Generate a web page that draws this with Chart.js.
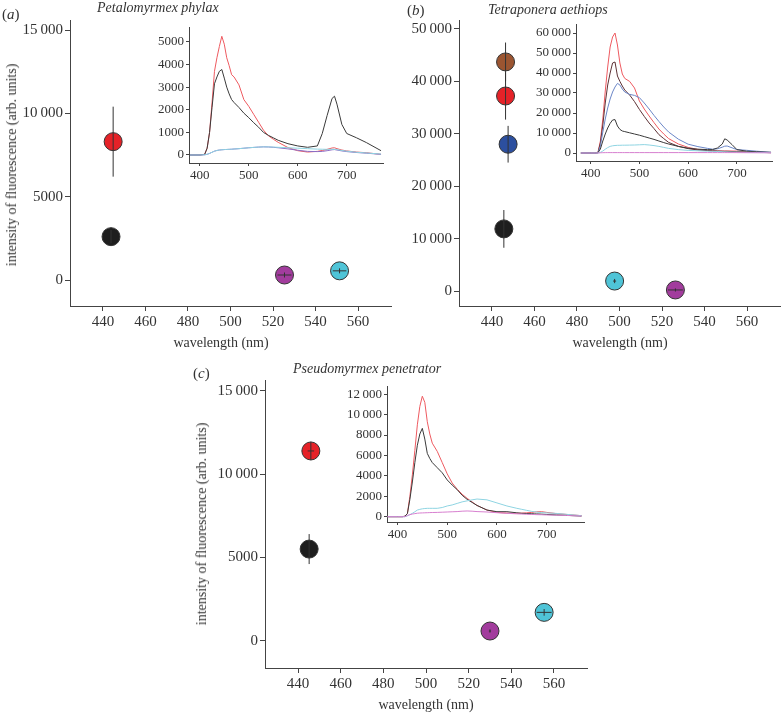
<!DOCTYPE html>
<html>
<head>
<meta charset="utf-8">
<script src="https://cdn.jsdelivr.net/npm/chart.js@4.4.0/dist/chart.umd.min.js"></script>
<style>
  body { margin: 0; background: #fff; }
  #page { position: relative; width: 781px; height: 713px; overflow: hidden; font-family: 'Liberation Serif', serif; color: #333; }
  canvas { position: absolute; }
  .txt { position: absolute; white-space: nowrap; font-size: 14px; line-height: 16px; }
  .ttl { font-style: italic; }
  .ylab { transform: translate(-50%, -50%) rotate(-90deg); }
  .xlab { transform: translate(-50%, -50%); }
</style>
</head>
<body>
<div id="page">
  <canvas id="mainA"></canvas>
  <canvas id="mainB"></canvas>
  <canvas id="mainC"></canvas>
  <canvas id="insetA"></canvas>
  <canvas id="insetB"></canvas>
  <canvas id="insetC"></canvas>

  <div class="txt" style="left:2px;top:6px;font-size:15px">(<i>a</i>)</div>
  <div class="txt ttl" style="left:97px;top:0px">Petalomyrmex phylax</div>
  <div class="txt" style="left:407px;top:2px;font-size:15px">(<i>b</i>)</div>
  <div class="txt ttl" style="left:488px;top:2px">Tetraponera aethiops</div>
  <div class="txt" style="left:193px;top:365px;font-size:15px">(<i>c</i>)</div>
  <div class="txt ttl" style="left:293px;top:361px">Pseudomyrmex penetrator</div>

  <div class="txt ylab" style="left:12px;top:165px">intensity of fluorescence (arb. units)</div>
  <div class="txt ylab" style="left:202px;top:524px">intensity of fluorescence (arb. units)</div>
  <div class="txt xlab" style="left:221px;top:343px">wavelength (nm)</div>
  <div class="txt xlab" style="left:620px;top:343px">wavelength (nm)</div>
  <div class="txt xlab" style="left:426px;top:705px">wavelength (nm)</div>
</div>
<script>
// ---- main panels: peak wavelength vs intensity ----
const aNames = ['black', 'red', 'purple', 'cyan'];
const aWavelength = [443.8, 444.8, 525.4, 551.3];
const aIntensity = [2600, 8300, 300, 550];
const aIntensityErr = [400, 2100, 150, 150];
const aWavelengthErr = [0, 0, 3.3, 3.2];

const bNames = ['brown', 'red', 'blue', 'black', 'cyan', 'purple'];
const bWavelength = [446.4, 446.4, 447.6, 445.6, 497.7, 526.3];
const bIntensity = [43700, 37200, 28000, 11850, 1900, 200];
const bIntensityErr = [3700, 4500, 3500, 3600, 400, 300];
const bWavelengthErr = [0, 0, 0, 0, 0.7, 3.5];

const cNames = ['red', 'black', 'purple', 'cyan'];
const cWavelength = [446.0, 445.2, 530.0, 555.4];
const cIntensity = [11390, 5500, 580, 1700];
const cIntensityErr = [550, 900, 100, 200];
const cWavelengthErr = [1.5, 0, 0.5, 3.5];

const mainXTicks = [440, 460, 480, 500, 520, 540, 560];
const aYTicks = [0, 5000, 10000, 15000];
const bYTicks = [0, 10000, 20000, 30000, 40000, 50000];
const cYTicks = [0, 5000, 10000, 15000];

// ---- insets: emission spectra ----
const insetWavelength = [380, 400, 410, 415, 420, 425, 430, 435, 440, 445, 450, 455, 460, 465, 470, 480, 490, 500, 510, 520, 530, 540, 550, 560, 580, 600, 620, 640, 650, 660, 670, 675, 680, 690, 700, 720, 740, 770];

const aRedSpec = [0, 0, 30, 300, 1000, 2300, 3700, 4300, 4800, 5250, 4900, 4300, 3950, 3550, 3450, 3100, 2450, 2150, 1800, 1450, 1100, 850, 700, 560, 330, 190, 130, 160, 200, 250, 310, 320, 280, 220, 180, 130, 100, 30];
const aBlackSpec = [0, 0, 30, 300, 1000, 2100, 3150, 3450, 3700, 3780, 3400, 3000, 2700, 2450, 2320, 2100, 1850, 1650, 1430, 1230, 1000, 870, 760, 650, 500, 400, 340, 400, 950, 1750, 2500, 2600, 2250, 1350, 950, 760, 550, 190];
const aPurpleSpec = [0, 0, 10, 30, 70, 120, 170, 200, 220, 230, 240, 245, 250, 255, 265, 280, 300, 320, 335, 350, 360, 355, 340, 320, 270, 210, 160, 150, 160, 190, 230, 240, 220, 180, 150, 110, 80, 30];
const aCyanSpec = [0, 0, 10, 30, 70, 120, 170, 200, 220, 230, 240, 245, 250, 255, 265, 280, 300, 320, 335, 350, 360, 358, 350, 340, 320, 300, 280, 260, 255, 250, 250, 250, 240, 200, 170, 120, 90, 40];

const bRedSpec = [0, 0, 0, 200, 6000, 17000, 31000, 43000, 53000, 58000, 60000, 54000, 45000, 39500, 37300, 35800, 32500, 26000, 22000, 18500, 15200, 12000, 9500, 7200, 4500, 2800, 1800, 1300, 1100, 1000, 1000, 1000, 1000, 1000, 950, 600, 400, 170];
const bBrownSpec = [0, 0, 0, 200, 5000, 14000, 25000, 34000, 40000, 45000, 45500, 38500, 35800, 33500, 31500, 29000, 25700, 21800, 18300, 15000, 12200, 9200, 7200, 5300, 3300, 2200, 1500, 1200, 1100, 1000, 900, 850, 850, 750, 650, 500, 350, 170];
const bBlueSpec = [0, 0, 0, 100, 3500, 10500, 17000, 22500, 27000, 30500, 33000, 34800, 34000, 32000, 30500, 29300, 28800, 27700, 25000, 22000, 18800, 15800, 13000, 10500, 6900, 4400, 3200, 2300, 1900, 2100, 2900, 3400, 3500, 2600, 1700, 1350, 900, 340];
const bBlackSpec = [0, 0, 0, 100, 2000, 6000, 9500, 12500, 14800, 16500, 16700, 13500, 11800, 11000, 10700, 10100, 9500, 8900, 8200, 7500, 6800, 6000, 5200, 4500, 3300, 2400, 1900, 1700, 1700, 2500, 4500, 7100, 6500, 4200, 1700, 900, 600, 340];
const bCyanSpec = [0, 0, 0, 0, 300, 1000, 1900, 2700, 3300, 3600, 3750, 3850, 3850, 3900, 3900, 3950, 4000, 4100, 4200, 4000, 3700, 3300, 2800, 2300, 1700, 1300, 1100, 900, 850, 750, 650, 600, 550, 500, 450, 350, 250, 170];
const bPurpleSpec = [0, 0, 0, 0, 100, 150, 180, 200, 200, 200, 200, 200, 200, 200, 200, 200, 200, 200, 200, 200, 200, 200, 200, 200, 200, 200, 200, 200, 200, 200, 200, 200, 200, 200, 180, 150, 120, 100];

const cRedSpec = [0, 0, 0, 50, 300, 2000, 4100, 6500, 9000, 10800, 11800, 11200, 9300, 8100, 7200, 6400, 5300, 4200, 3300, 2700, 2200, 1800, 1450, 1100, 650, 420, 350, 330, 350, 380, 420, 450, 480, 490, 420, 300, 220, 100];
const cBlackSpec = [0, 0, 0, 50, 300, 1700, 3400, 5300, 7000, 8100, 8650, 7600, 6200, 5700, 5300, 4800, 4300, 3600, 3100, 2650, 2100, 1700, 1400, 1100, 650, 490, 490, 380, 330, 310, 290, 280, 270, 250, 220, 170, 130, 60];
const cCyanSpec = [0, 0, 0, 0, 80, 200, 330, 480, 650, 720, 770, 800, 820, 820, 820, 820, 900, 1050, 1150, 1300, 1450, 1550, 1650, 1730, 1650, 1350, 1050, 820, 720, 620, 520, 490, 450, 400, 370, 320, 230, 100];
const cPurpleSpec = [0, 0, 0, 0, 120, 200, 260, 300, 340, 360, 370, 380, 390, 400, 410, 420, 440, 460, 480, 500, 540, 560, 540, 500, 460, 390, 330, 280, 260, 240, 220, 210, 200, 190, 170, 150, 120, 60];

const insetXTicks = [400, 500, 600, 700];
const aInsetYTicks = [0, 1000, 2000, 3000, 4000, 5000];
const bInsetYTicks = [0, 10000, 20000, 30000, 40000, 50000, 60000];
const cInsetYTicks = [0, 2000, 4000, 6000, 8000, 10000, 12000];

// colours
const dotColour = {
  black: '#1e1e1e', red: '#e52228', purple: '#a23c9d', cyan: '#4fc4d7',
  blue: '#2c4f9f', brown: '#9b5531'
};
const lineColour = {
  black: '#3a3a3a', red: '#ee5a60', purple: '#8a6cc4', cyan: '#8ed4e2',
  blue: '#6b86c7', brown: '#5e3236', magenta: '#d77fcf'
};

const SERIF = "'Liberation Serif', 'Times New Roman', serif";
const AXIS = '#444';

function fmt(v) {
  if (Math.abs(v) >= 10000) {
    const s = String(v);
    return s.slice(0, s.length - 3) + '\u2009' + s.slice(-3);
  }
  return String(v);
}

// place canvas so the chart area lands on the given box
function place(id, box, yW, xH, pad) {
  const c = document.getElementById(id);
  c.width = box.r - box.l + yW + pad;
  c.height = box.b - box.t + pad + xH;
  c.style.left = (box.l - yW) + 'px';
  c.style.top = (box.t - pad) + 'px';
  return c;
}

function axis(pos, range, ticks, size, fixed, tickLen) {
  return {
    type: 'linear',
    position: pos,
    min: range[0],
    max: range[1],
    afterBuildTicks: s => { s.ticks = ticks.map(v => ({ value: v })); },
    afterFit: s => {
      if (pos === 'left') { s.width = fixed; s.paddingTop = 0; s.paddingBottom = 0; }
      else { s.height = fixed; s.paddingLeft = 0; s.paddingRight = 0; }
    },
    grid: { drawOnChartArea: false, drawTicks: true, tickLength: tickLen, color: AXIS, lineWidth: 1 },
    border: { display: true, color: AXIS, width: 1 },
    ticks: {
      font: { family: SERIF, size: size },
      color: '#333',
      padding: 2,
      maxRotation: 0,
      autoSkip: false,
      callback: v => fmt(v)
    }
  };
}

const errorBars = {
  id: 'errorBars',
  afterDatasetsDraw(chart) {
    const ds = chart.data.datasets[0];
    if (!ds.errY) return;
    const ctx = chart.ctx, xs = chart.scales.x, ys = chart.scales.y;
    ctx.save();
    ctx.strokeStyle = '#333';
    ctx.lineWidth = 1;
    ds.data.forEach((p, i) => {
      const px = xs.getPixelForValue(p.x), py = ys.getPixelForValue(p.y);
      ctx.beginPath();
      ctx.moveTo(px, ys.getPixelForValue(p.y - ds.errY[i]));
      ctx.lineTo(px, ys.getPixelForValue(p.y + ds.errY[i]));
      if (ds.errX[i] > 0) {
        ctx.moveTo(xs.getPixelForValue(p.x - ds.errX[i]), py);
        ctx.lineTo(xs.getPixelForValue(p.x + ds.errX[i]), py);
      }
      ctx.stroke();
    });
    ctx.restore();
  }
};

function mainChart(id, box, yRange, yTicks, names, wl, inten, errY, errX) {
  const c = place(id, box, 80, 40, 14);
  return new Chart(c.getContext('2d'), {
    type: 'scatter',
    data: {
      datasets: [{
        data: wl.map((w, i) => ({ x: w, y: inten[i] })),
        pointRadius: 9,
        pointBackgroundColor: names.map(n => dotColour[n]),
        pointBorderColor: '#333',
        pointBorderWidth: 1,
        errY: errY,
        errX: errX
      }]
    },
    options: {
      responsive: false,
      animation: false,
      layout: { padding: { top: 14, right: 14, left: 0, bottom: 0 } },
      plugins: { legend: { display: false }, tooltip: { enabled: false } },
      scales: {
        x: axis('bottom', [424.5, 575.5], mainXTicks, 15, 40, 5),
        y: axis('left', yRange, yTicks, 15, 80, 5)
      }
    },
    plugins: [errorBars]
  });
}

function insetChart(id, box, xRange, yRange, yTicks, series) {
  const c = place(id, box, 60, 30, 8);
  return new Chart(c.getContext('2d'), {
    type: 'scatter',
    data: {
      datasets: series.map(s => ({
        data: insetWavelength.map((w, i) => ({ x: w, y: s[1][i] })),
        showLine: true,
        borderColor: lineColour[s[0]],
        borderWidth: 1,
        pointRadius: 0,
        tension: 0
      }))
    },
    options: {
      responsive: false,
      animation: false,
      layout: { padding: { top: 8, right: 8, left: 0, bottom: 0 } },
      plugins: { legend: { display: false }, tooltip: { enabled: false } },
      scales: {
        x: axis('bottom', xRange, insetXTicks, 13, 30, 3),
        y: axis('left', yRange, yTicks, 13, 60, 3)
      }
    }
  });
}

mainChart('mainA', { l: 70, r: 391, t: 20, b: 306 }, [-1560, 15600], aYTicks,
  aNames, aWavelength, aIntensity, aIntensityErr, aWavelengthErr);
mainChart('mainB', { l: 459, r: 780, t: 20, b: 306 }, [-2860, 51700], bYTicks,
  bNames, bWavelength, bIntensity, bIntensityErr, bWavelengthErr);
mainChart('mainC', { l: 265, r: 587, t: 380, b: 668 }, [-1640, 15650], cYTicks,
  cNames, cWavelength, cIntensity, cIntensityErr, cWavelengthErr);

insetChart('insetA', { l: 189, r: 383, t: 27, b: 163 }, [378, 774], [-354, 5660], aInsetYTicks, [
  ['cyan', aCyanSpec], ['purple', aPurpleSpec], ['black', aBlackSpec], ['red', aRedSpec]
]);
insetChart('insetB', { l: 576, r: 772, t: 24, b: 161 }, [370, 772], [-4000, 64500], bInsetYTicks, [
  ['magenta', bPurpleSpec], ['cyan', bCyanSpec], ['black', bBlackSpec], ['blue', bBlueSpec],
  ['brown', bBrownSpec], ['red', bRedSpec]
]);
insetChart('insetC', { l: 387, r: 584, t: 386, b: 522 }, [379, 775], [-520, 12800], cInsetYTicks, [
  ['magenta', cPurpleSpec], ['cyan', cCyanSpec], ['black', cBlackSpec], ['red', cRedSpec]
]);
</script>
</body>
</html>
